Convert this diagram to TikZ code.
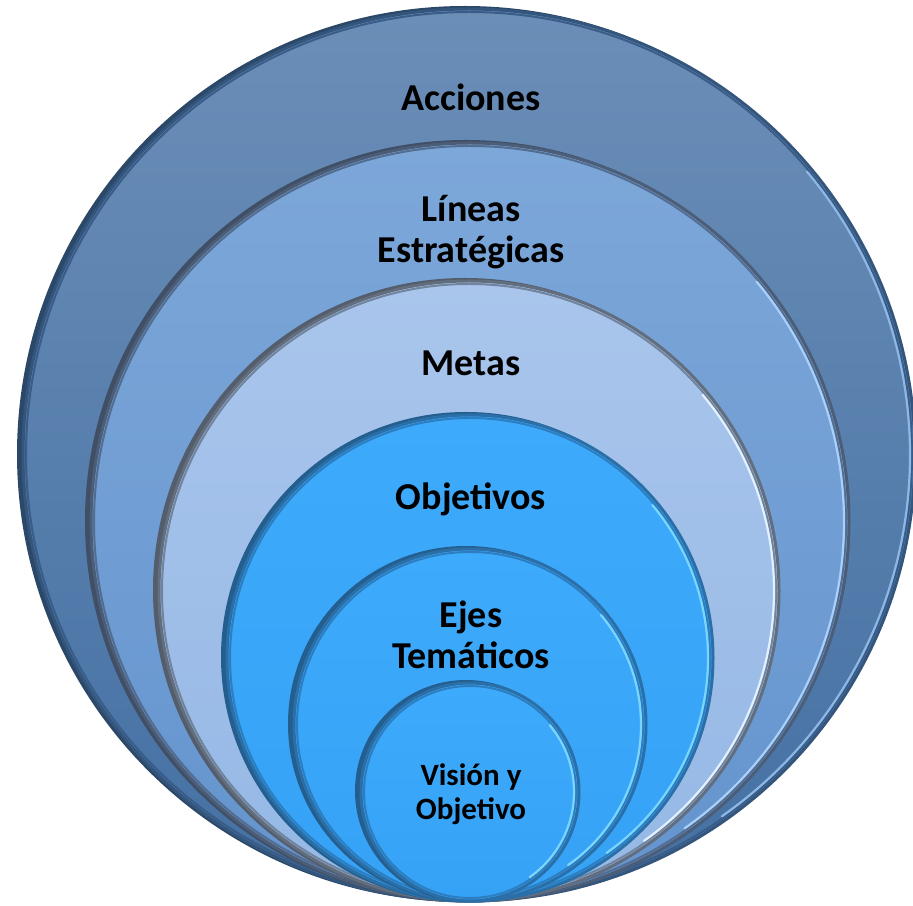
\documentclass[tikz,border=0pt]{standalone}
\usepackage{fontspec}
\setmainfont{Carlito}
\usetikzlibrary{calc}
\tikzset{
  lbl/.style={font=\bfseries\fontsize{38}{41}\selectfont, align=center, text=black, inner sep=0pt},
  lblsmall/.style={font=\bfseries\fontsize{31}{34}\selectfont, align=center, text=black, inner sep=0pt},
}
\definecolor{acTop}{HTML}{6B8EB7}
\definecolor{acBot}{HTML}{4470A3}
\definecolor{acEdge}{HTML}{34557C}
\definecolor{acHl}{HTML}{8DB8E6}
\definecolor{liTop}{HTML}{7DA7D9}
\definecolor{liBot}{HTML}{6494CE}
\definecolor{liEdge}{HTML}{4B5D77}
\definecolor{liHl}{HTML}{A9D0FA}
\definecolor{meTop}{HTML}{A9C5EC}
\definecolor{meBot}{HTML}{95B8E5}
\definecolor{meEdge}{HTML}{626D7E}
\definecolor{meHl}{HTML}{E2F1FF}
\definecolor{obTop}{HTML}{3DAAFB}
\definecolor{obBot}{HTML}{35A2F6}
\definecolor{obEdge}{HTML}{2A6FA8}
\definecolor{obHl}{HTML}{7AD6FF}
% \myring{cx}{cy}{r}{top}{bot}{edge}{hl}
\newcommand{\myring}[7]{%
  \fill[#6!85!black] (#1-4,#2+1) circle (#3);
  \shade[top color=#4, bottom color=#5] (#1,#2) circle (#3-1.5);
  \draw[#6, line width=3pt] (#1,#2) circle (#3-2);
  \draw[#6!70!#5, line width=2pt] (#1,#2) circle (#3-5);
  \draw[#7, line width=2.2pt, line cap=round] ($(#1,#2)+(-55:#3-7)$) arc[start angle=-55, end angle=40, radius=#3-7];
}
\begin{document}
\begin{tikzpicture}[x=1pt,y=1pt]
\useasboundingbox (0,0) rectangle (913,905);
\myring{469}{450}{448}{acTop}{acBot}{acEdge}{acHl}
\myring{470}{383}{381}{liTop}{liBot}{liEdge}{liHl}
\myring{469}{314}{312}{meTop}{meBot}{meEdge}{meHl}
\myring{470}{247}{245}{obTop}{obBot}{obEdge}{obHl}
\myring{470}{180}{178}{obTop}{obBot}{obEdge}{obHl}
\myring{470}{113}{111}{obTop}{obBot}{obEdge}{obHl}
\node[lbl] (acc) at (471,808) {Acciones};
\node[lbl] (lin) at (471,673) {Líneas\\Estratégicas};
\node[lbl] (met) at (471,542) {Metas};
\node[lbl] (obj) at (471,406) {Objetivos};
\node[lbl] (eje) at (471,270) {Ejes\\Temáticos};
\node[lblsmall] (vis) at (471,111) {Visión y\\Objetivo};
\end{tikzpicture}
\end{document}
